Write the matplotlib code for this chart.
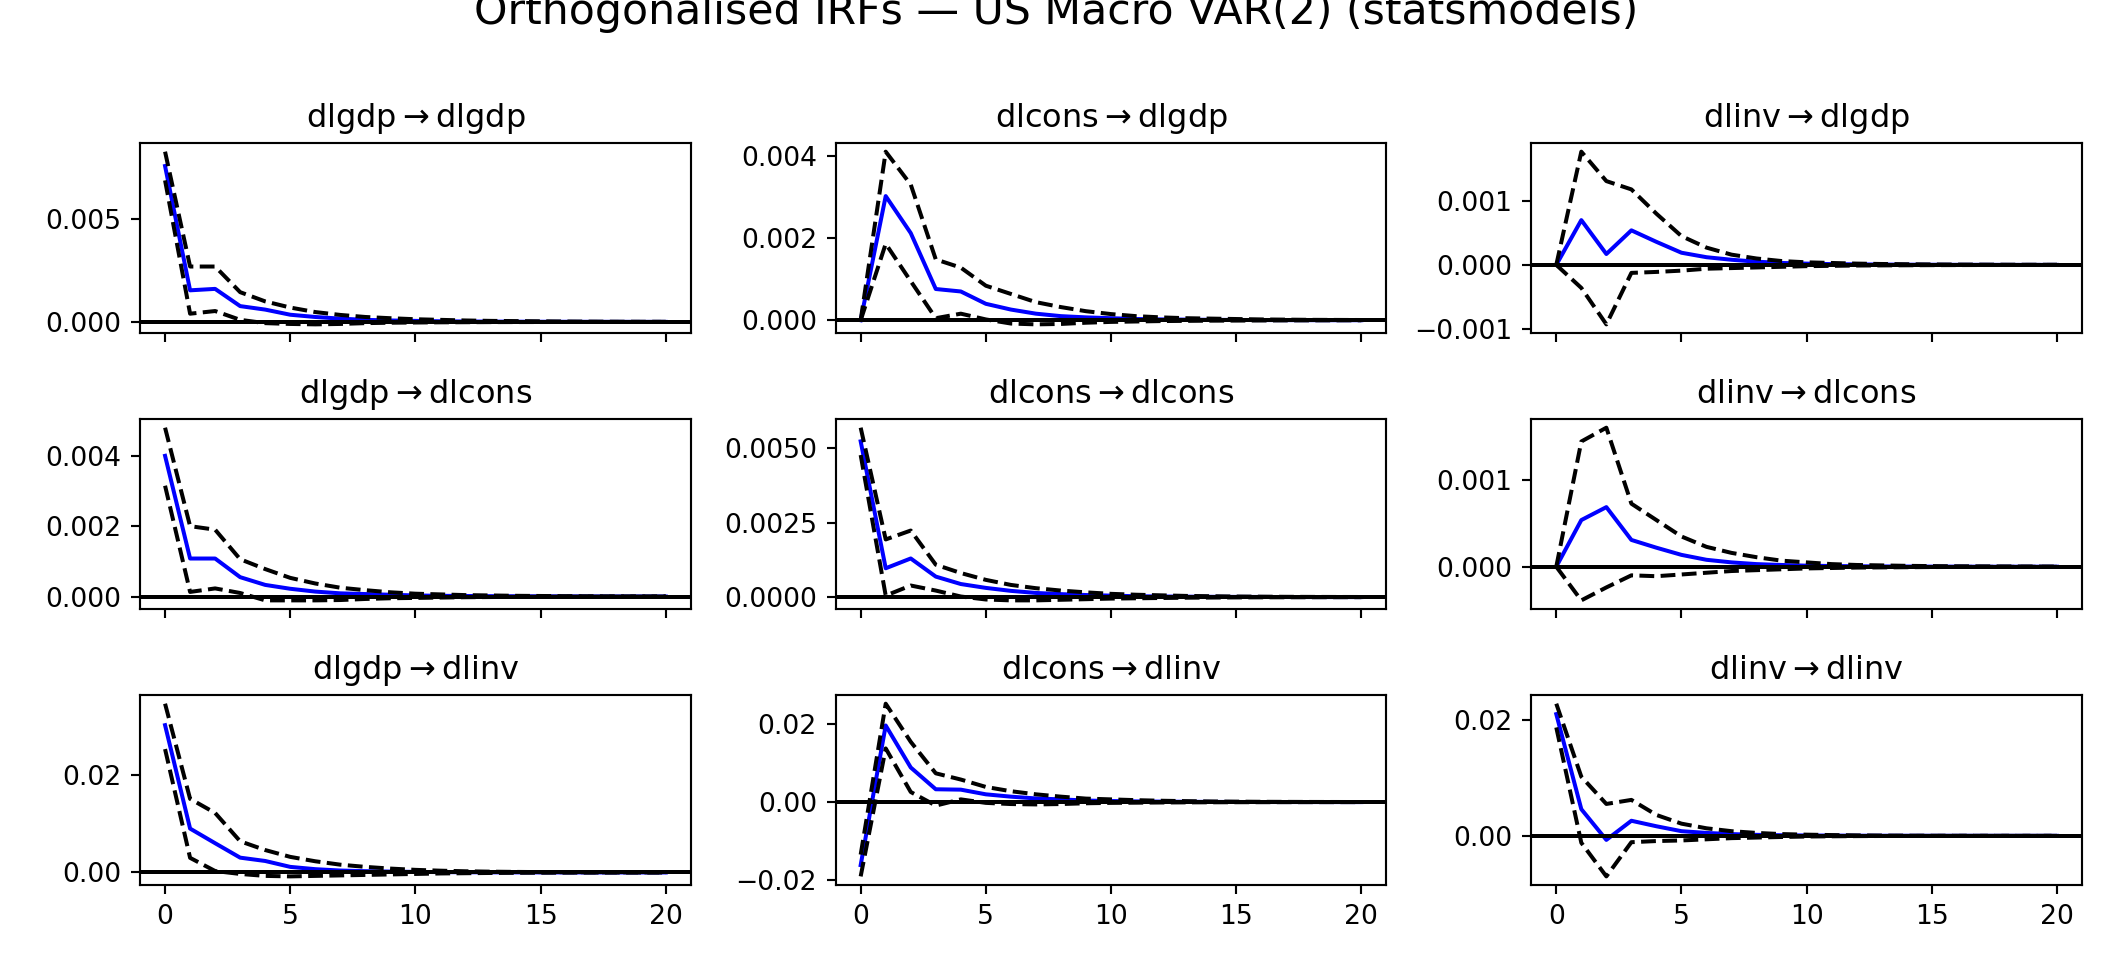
import numpy as np
import matplotlib
matplotlib.use("Agg")
import matplotlib.pyplot as plt

names = ["dlgdp", "dlcons", "dlinv"]
steps = np.arange(21)

# response dlgdp
irf_gdp_gdp = [0.0076, 0.00154, 0.00161, 0.00077, 0.0006, 0.00035, 0.00024, 0.00016, 0.0001, 0.00007, 0.00005,
               0.00003, 0.00002, 0.000015, 0.00001, 0.000007, 0.000005, 0.000003, 0.000002, 0.000001, 0.000001]
up_gdp_gdp = [0.0083, 0.0027, 0.0027, 0.00145, 0.001, 0.0007, 0.00048, 0.00034, 0.00024, 0.00018, 0.00013,
              0.0001, 0.00007, 0.00005, 0.00004, 0.00003, 0.00002, 0.000015, 0.00001, 0.000008, 0.000006]
lo_gdp_gdp = [0.0069, 0.0004, 0.00053, 0.0001, -0.00006, -0.0001, -0.00012, -0.0001, -0.00006, -0.00004, -0.00003,
              -0.00002, -0.000015, -0.00001, -0.000008, -0.000006, -0.000004, -0.000003, -0.000002, -0.000002, -0.000001]

irf_cons_gdp = [0, 0.00302, 0.00212, 0.00076, 0.0007, 0.0004, 0.00026, 0.00016, 0.0001, 0.00007, 0.00005,
                0.00003, 0.00002, 0.000015, 0.00001, 0.000007, 0.000005, 0.000003, 0.000002, 0.000001, 0.000001]
up_cons_gdp = [0, 0.0041, 0.0033, 0.00148, 0.00128, 0.00084, 0.00064, 0.00044, 0.00032, 0.00022, 0.00015,
               0.0001, 0.00007, 0.00005, 0.00004, 0.00003, 0.00002, 0.000015, 0.00001, 0.000008, 0.000006]
lo_cons_gdp = [0, 0.00186, 0.00095, 0.00005, 0.00016, 0.00002, -0.00008, -0.0001, -0.00009, -0.00006, -0.00004,
               -0.00003, -0.00002, -0.000015, -0.00001, -0.000008, -0.000006, -0.000004, -0.000003, -0.000002, -0.000001]

irf_inv_gdp = [0, 0.0007, 0.00017, 0.00054, 0.00036, 0.00019, 0.00012, 0.00008, 0.00005, 0.00003, 0.00002,
               0.000012, 0.000008, 0.000005, 0.000003, 0.000002, 0.000001, 0.000001, 0, 0, 0]
up_inv_gdp = [0, 0.00177, 0.00131, 0.00118, 0.0008, 0.00045, 0.00027, 0.00016, 0.0001, 0.00006, 0.00004,
              0.00003, 0.00002, 0.000014, 0.00001, 0.000007, 0.000005, 0.000004, 0.000003, 0.000002, 0.000002]
lo_inv_gdp = [0, -0.00036, -0.00093, -0.000125, -0.00011, -0.00009, -0.00006, -0.00005, -0.00004, -0.00003, -0.00002,
              -0.000015, -0.00001, -0.000008, -0.000006, -0.000004, -0.000003, -0.000002, -0.000002, -0.000001, -0.000001]

# response dlcons
irf_gdp_cons = [0.004, 0.00108, 0.00108, 0.00055, 0.00033, 0.00022, 0.00014, 0.00009, 0.00007, 0.00005, 0.00003,
                0.00002, 0.000015, 0.00001, 0.000007, 0.000005, 0.000003, 0.000002, 0.000001, 0.000001, 0]
up_gdp_cons = [0.0048, 0.002, 0.0019, 0.00106, 0.00078, 0.00053, 0.00037, 0.00025, 0.00018, 0.00012, 0.00008,
               0.00006, 0.00004, 0.00003, 0.00002, 0.000015, 0.00001, 0.000007, 0.000005, 0.000004, 0.000003]
lo_gdp_cons = [0.00315, 0.00013, 0.00023, 0.0001, -0.00011, -0.00011, -0.00011, -0.0001, -0.00007, -0.00005, -0.00004,
               -0.00003, -0.00002, -0.000015, -0.00001, -0.000007, -0.000005, -0.000004, -0.000003, -0.000002, -0.000001]

irf_cons_cons = [0.00524, 0.00097, 0.0013, 0.00069, 0.00044, 0.00031, 0.00021, 0.00014, 0.0001, 0.00007, 0.00005,
                 0.00003, 0.00002, 0.000015, 0.00001, 0.000007, 0.000005, 0.000003, 0.000002, 0.000001, 0.000001]
up_cons_cons = [0.0057, 0.00194, 0.00224, 0.00109, 0.00081, 0.00058, 0.00041, 0.0003, 0.00022, 0.00016, 0.00011,
                0.00008, 0.00006, 0.00004, 0.00003, 0.00002, 0.000015, 0.00001, 0.000007, 0.000005, 0.000004]
lo_cons_cons = [0.00478, 0.00005, 0.00039, 0.00022, 0.00002, -0.00008, -0.00011, -0.00011, -0.00009, -0.00007, -0.00005,
                -0.00004, -0.00003, -0.00002, -0.000015, -0.00001, -0.000007, -0.000005, -0.000004, -0.000003, -0.000002]

irf_inv_cons = [0, 0.00054, 0.00069, 0.00031, 0.00022, 0.000137, 0.00008, 0.00005, 0.00003, 0.00002, 0.000012,
                0.000008, 0.000005, 0.000003, 0.000002, 0.000001, 0.000001, 0, 0, 0, 0]
up_inv_cons = [0, 0.00145, 0.00161, 0.00073, 0.00054, 0.00035, 0.00023, 0.00016, 0.00011, 0.00007, 0.00005,
               0.00003, 0.00002, 0.000015, 0.00001, 0.000007, 0.000005, 0.000004, 0.000003, 0.000002, 0.000001]
lo_inv_cons = [0, -0.00039, -0.00024, -0.0001, -0.00011, -0.00009, -0.00007, -0.00005, -0.00004, -0.00003, -0.00002,
               -0.000015, -0.00001, -0.000008, -0.000006, -0.000004, -0.000003, -0.000002, -0.000002, -0.000001, -0.000001]

# response dlinv
irf_gdp_inv = [0.0302, 0.009, 0.006, 0.00304, 0.00236, 0.00115, 0.00068, 0.0004, 0.00027, 0.00018, 0.00012,
               0.00008, 0.00005, 0.00003, 0.00002, 0.000015, 0.00001, 0.000006, 0.000004, 0.000003, 0.000002]
up_gdp_inv = [0.0346, 0.0151, 0.0122, 0.0064, 0.0046, 0.0032, 0.0023, 0.0016, 0.00115, 0.0008, 0.00054,
              0.00037, 0.00025, 0.00017, 0.00012, 0.00008, 0.00006, 0.00004, 0.00003, 0.00002, 0.000015]
lo_gdp_inv = [0.0253, 0.003, 0.0003, -0.0003, -0.0007, -0.0008, -0.0007, -0.0006, -0.0005, -0.0004, -0.0003,
              -0.0002, -0.00015, -0.0001, -0.00007, -0.00005, -0.00003, -0.00002, -0.000015, -0.00001, -0.000007]

irf_cons_inv = [-0.0162, 0.0197, 0.0089, 0.0033, 0.0032, 0.002, 0.0014, 0.00094, 0.0007, 0.0004, 0.00028,
                0.00018, 0.00012, 0.00008, 0.00005, 0.00003, 0.00002, 0.000015, 0.00001, 0.000006, 0.000004]
up_cons_inv = [-0.0135, 0.0253, 0.0155, 0.0074, 0.0058, 0.0039, 0.0028, 0.002, 0.0014, 0.0009, 0.0007,
               0.0005, 0.00035, 0.00025, 0.00017, 0.00012, 0.00008, 0.00006, 0.00004, 0.00003, 0.00002]
lo_cons_inv = [-0.0191, 0.0138, 0.0026, -0.0009, 0.0007, -0.0002, -0.0005, -0.0006, -0.0005, -0.0003, -0.0002,
               -0.00015, -0.0001, -0.00007, -0.00005, -0.00003, -0.00002, -0.000015, -0.00001, -0.000007, -0.000005]

irf_inv_inv = [0.021, 0.0046, -0.0007, 0.0026, 0.00165, 0.0008, 0.0005, 0.0003, 0.00017, 0.0001, 0.00006,
               0.00004, 0.00002, 0.000015, 0.00001, 0.000006, 0.000004, 0.000002, 0.000001, 0.000001, 0]
up_inv_inv = [0.0228, 0.0102, 0.0055, 0.0062, 0.0036, 0.0021, 0.0013, 0.0008, 0.0005, 0.0003, 0.0002,
              0.00013, 0.00008, 0.00005, 0.00003, 0.00002, 0.000015, 0.00001, 0.000006, 0.000004, 0.000003]
lo_inv_inv = [0.0187, -0.0012, -0.007, -0.0011, -0.0009, -0.0008, -0.0006, -0.0004, -0.0003, -0.0002, -0.00012,
              -0.00008, -0.00005, -0.00003, -0.00002, -0.000015, -0.00001, -0.000006, -0.000004, -0.000003, -0.000002]

# rows = response, cols = impulse
panels = [
    [(irf_gdp_gdp, lo_gdp_gdp, up_gdp_gdp), (irf_cons_gdp, lo_cons_gdp, up_cons_gdp), (irf_inv_gdp, lo_inv_gdp, up_inv_gdp)],
    [(irf_gdp_cons, lo_gdp_cons, up_gdp_cons), (irf_cons_cons, lo_cons_cons, up_cons_cons), (irf_inv_cons, lo_inv_cons, up_inv_cons)],
    [(irf_gdp_inv, lo_gdp_inv, up_gdp_inv), (irf_cons_inv, lo_cons_inv, up_cons_inv), (irf_inv_inv, lo_inv_inv, up_inv_inv)],
]

fig, axes = plt.subplots(3, 3, sharex=True, squeeze=False, figsize=(11, 5), dpi=192)
fig.subplots_adjust(left=0.0663, right=0.9858, top=0.851, bottom=0.0781, wspace=0.263, hspace=0.453)
fig.suptitle('Orthogonalised IRFs \u2014 US Macro VAR(2) (statsmodels)', fontsize=16, y=1 - 24 / 960, va='baseline')

for i in range(3):
    for j in range(3):
        ax = axes[i, j]
        val, lo, up = panels[i][j]
        ax.plot(steps, val, 'b')
        ax.plot(steps, lo, 'k--')
        ax.plot(steps, up, 'k--')
        ax.axhline(0, color='k')
        ax.set_title(r'%s$\rightarrow$%s' % (names[j], names[i]), fontsize=12)

fig.savefig('out.png', dpi=192)
